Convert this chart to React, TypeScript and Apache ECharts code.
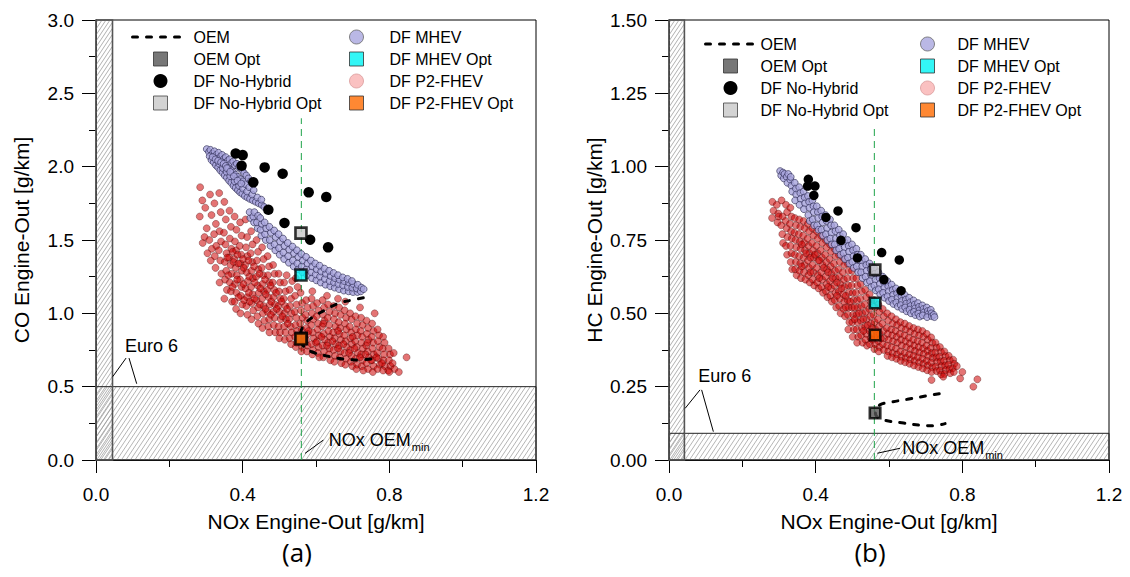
import React, { useEffect, useRef } from "react";
import * as echarts from "echarts";

const FONT = '"Liberation Sans", Arial, Helvetica, sans-serif';

// ---------- DATA (panel a: CO, panel b: HC) ----------
const seriesNames = ["OEM", "OEM Opt", "DF No-Hybrid", "DF No-Hybrid Opt", "DF MHEV", "DF MHEV Opt", "DF P2-FHEV", "DF P2-FHEV Opt"];
const xTicksMax = 1.2;
const yMaxA = 3.0;
const yMaxB = 1.5;

// Euro 6 limits and NOx OEM min
const euroNoxA = 0.045;
const euroCoA = 0.5;
const euroNoxB = 0.042;
const euroHcB = 0.091;
const noxOemMin = 0.56;

const oemA = [[0.729, 1.106], [0.697, 1.09], [0.661, 1.068], [0.625, 1.023], [0.593, 0.977], [0.567, 0.92], [0.558, 0.85], [0.565, 0.78], [0.588, 0.738], [0.638, 0.705], [0.684, 0.686], [0.72, 0.682], [0.75, 0.689]];
const oemB = [[0.737, 0.226], [0.70, 0.218], [0.65, 0.207], [0.60, 0.196], [0.575, 0.188], [0.565, 0.172], [0.563, 0.158], [0.57, 0.145], [0.59, 0.135], [0.64, 0.126], [0.69, 0.118], [0.72, 0.117], [0.753, 0.124]];

const oemOptA = [[0.56, 0.83]];
const oemOptB = [[0.562, 0.16]];
const noHybridOptA = [[0.559, 1.547]];
const noHybridOptB = [[0.562, 0.648]];
const mhevOptA = [[0.559, 1.261]];
const mhevOptB = [[0.562, 0.535]];
const p2OptA = [[0.559, 0.825]];
const p2OptB = [[0.562, 0.426]];

const noHybridA = [[0.381, 2.09], [0.40, 2.079], [0.397, 2.006], [0.46, 1.995], [0.509, 1.952], [0.429, 1.893], [0.58, 1.825], [0.628, 1.793], [0.47, 1.706], [0.514, 1.616], [0.584, 1.502], [0.633, 1.45]];
const noHybridB = [[0.38, 0.957], [0.398, 0.934], [0.378, 0.934], [0.395, 0.902], [0.461, 0.849], [0.428, 0.827], [0.51, 0.792], [0.469, 0.749], [0.58, 0.707], [0.628, 0.682], [0.514, 0.689], [0.586, 0.615], [0.633, 0.577]];

const mhevA = [
  [0.302, 2.12], [0.308, 2.10], [0.312, 2.115], [0.318, 2.09], [0.323, 2.105], [0.328, 2.08], [0.334, 2.095], [0.339, 2.068], [0.344, 2.08], [0.349, 2.055],
  [0.354, 2.065], [0.359, 2.04], [0.364, 2.05], [0.369, 2.025], [0.374, 2.035], [0.379, 2.01], [0.384, 2.02], [0.389, 1.995], [0.394, 1.99], [0.399, 1.975],
  [0.31, 2.07], [0.315, 2.045], [0.321, 2.03], [0.327, 2.01], [0.333, 1.995], [0.339, 1.975], [0.345, 1.96], [0.351, 1.94], [0.357, 1.925], [0.363, 1.905],
  [0.369, 1.89], [0.375, 1.87], [0.381, 1.855], [0.387, 1.84], [0.393, 1.825], [0.399, 1.815], [0.406, 1.80], [0.413, 1.79], [0.42, 1.78], [0.428, 1.77],
  [0.436, 1.76], [0.444, 1.75], [0.452, 1.74], [0.459, 1.725], [0.336, 2.02], [0.346, 1.99], [0.356, 1.965], [0.366, 1.935], [0.378, 1.90], [0.39, 1.87],
  [0.401, 1.85], [0.412, 1.83], [0.426, 1.81], [0.44, 1.79], [0.451, 1.775],
  [0.318, 2.065], [0.326, 2.05], [0.333, 2.04], [0.341, 2.03], [0.348, 2.02], [0.354, 2.005], [0.361, 1.99], [0.368, 1.975], [0.374, 1.96],
  [0.381, 1.945], [0.387, 1.93], [0.394, 1.915], [0.401, 1.90], [0.408, 1.88], [0.357, 1.99], [0.366, 1.965], [0.376, 1.935], [0.386, 1.905],
  [0.396, 1.885], [0.404, 1.955], [0.41, 1.94], [0.416, 1.92], [0.422, 1.90], [0.418, 1.86], [0.43, 1.84],
  [0.421, 1.65], [0.419, 1.69], [0.431, 1.62], [0.429, 1.66], [0.432, 1.69], [0.441, 1.58], [0.439, 1.62], [0.442, 1.665],
  [0.451, 1.53], [0.449, 1.57], [0.452, 1.61], [0.448, 1.65], [0.463, 1.50], [0.461, 1.54], [0.464, 1.58], [0.46, 1.62],
  [0.476, 1.46], [0.474, 1.50], [0.477, 1.55], [0.473, 1.59], [0.489, 1.43], [0.487, 1.47], [0.49, 1.52], [0.486, 1.565],
  [0.501, 1.40], [0.499, 1.445], [0.502, 1.49], [0.498, 1.54], [0.513, 1.37], [0.511, 1.415], [0.514, 1.46], [0.51, 1.51],
  [0.526, 1.345], [0.524, 1.39], [0.527, 1.435], [0.523, 1.48], [0.539, 1.32], [0.537, 1.36], [0.54, 1.41], [0.536, 1.455],
  [0.551, 1.30], [0.549, 1.34], [0.552, 1.385], [0.548, 1.43], [0.563, 1.28], [0.561, 1.32], [0.564, 1.36], [0.56, 1.405],
  [0.576, 1.26], [0.574, 1.30], [0.577, 1.34], [0.573, 1.385], [0.589, 1.24], [0.587, 1.28], [0.59, 1.32], [0.586, 1.36],
  [0.601, 1.225], [0.599, 1.265], [0.602, 1.30], [0.598, 1.34], [0.613, 1.21], [0.611, 1.25], [0.614, 1.285], [0.61, 1.325],
  [0.626, 1.195], [0.624, 1.235], [0.627, 1.27], [0.623, 1.305], [0.639, 1.185], [0.637, 1.22], [0.64, 1.255], [0.636, 1.29],
  [0.651, 1.175], [0.649, 1.21], [0.652, 1.24], [0.648, 1.275], [0.663, 1.165], [0.661, 1.20], [0.664, 1.23], [0.66, 1.26],
  [0.676, 1.155], [0.674, 1.19], [0.677, 1.22], [0.673, 1.245], [0.689, 1.15], [0.687, 1.18], [0.69, 1.21], [0.686, 1.235],
  [0.701, 1.145], [0.699, 1.175], [0.702, 1.20], [0.698, 1.22], [0.713, 1.145], [0.711, 1.17], [0.714, 1.195],
  [0.722, 1.15], [0.724, 1.175], [0.73, 1.165]
];

const mhevB = [
  [0.303, 0.985], [0.306, 0.97], [0.311, 0.98], [0.313, 0.96], [0.315, 0.975], [0.321, 0.965], [0.323, 0.945], [0.325, 0.975],
  [0.331, 0.955], [0.334, 0.935], [0.336, 0.915], [0.332, 0.965], [0.343, 0.945], [0.346, 0.925], [0.347, 0.905], [0.344, 0.885],
  [0.355, 0.93], [0.358, 0.91], [0.359, 0.89], [0.356, 0.87], [0.367, 0.915], [0.37, 0.895], [0.371, 0.875], [0.368, 0.855],
  [0.379, 0.9], [0.382, 0.88], [0.383, 0.86], [0.38, 0.835], [0.384, 0.815], [0.391, 0.885], [0.394, 0.865], [0.395, 0.845], [0.392, 0.82], [0.396, 0.80],
  [0.403, 0.865], [0.406, 0.845], [0.407, 0.825], [0.404, 0.80], [0.408, 0.785], [0.415, 0.85], [0.418, 0.83], [0.419, 0.81], [0.416, 0.785], [0.42, 0.765],
  [0.427, 0.835], [0.43, 0.815], [0.431, 0.79], [0.428, 0.77], [0.432, 0.75], [0.439, 0.82], [0.442, 0.80], [0.443, 0.775], [0.44, 0.755], [0.444, 0.735],
  [0.451, 0.80], [0.454, 0.78], [0.455, 0.755], [0.452, 0.735], [0.456, 0.715], [0.463, 0.785], [0.466, 0.765], [0.467, 0.74], [0.464, 0.72], [0.468, 0.70],
  [0.475, 0.77], [0.478, 0.745], [0.479, 0.725], [0.476, 0.705], [0.48, 0.685], [0.487, 0.75], [0.49, 0.73], [0.491, 0.71], [0.488, 0.69], [0.492, 0.67],
  [0.499, 0.735], [0.502, 0.715], [0.503, 0.695], [0.5, 0.675], [0.504, 0.655], [0.511, 0.72], [0.514, 0.70], [0.515, 0.68], [0.512, 0.66], [0.516, 0.64],
  [0.523, 0.70], [0.526, 0.68], [0.527, 0.66], [0.524, 0.64], [0.528, 0.62], [0.535, 0.685], [0.538, 0.665], [0.539, 0.645], [0.536, 0.625], [0.54, 0.605],
  [0.547, 0.67], [0.55, 0.65], [0.551, 0.63], [0.548, 0.61], [0.552, 0.59], [0.559, 0.655], [0.562, 0.635], [0.563, 0.615], [0.56, 0.595], [0.564, 0.578],
  [0.571, 0.64], [0.574, 0.62], [0.575, 0.60], [0.572, 0.582], [0.576, 0.565], [0.583, 0.625], [0.586, 0.605], [0.587, 0.587], [0.584, 0.57], [0.588, 0.553],
  [0.595, 0.61], [0.598, 0.592], [0.599, 0.575], [0.596, 0.558], [0.6, 0.542], [0.607, 0.598], [0.61, 0.58], [0.611, 0.563], [0.608, 0.547], [0.612, 0.532],
  [0.619, 0.585], [0.622, 0.568], [0.623, 0.552], [0.62, 0.537], [0.624, 0.523], [0.631, 0.574], [0.634, 0.557], [0.635, 0.542], [0.632, 0.528], [0.636, 0.515],
  [0.643, 0.563], [0.646, 0.547], [0.647, 0.533], [0.644, 0.52], [0.648, 0.507], [0.655, 0.553], [0.658, 0.538], [0.659, 0.525], [0.656, 0.512], [0.66, 0.50],
  [0.667, 0.544], [0.67, 0.53], [0.671, 0.517], [0.668, 0.505], [0.672, 0.494], [0.679, 0.535], [0.682, 0.522], [0.683, 0.51], [0.68, 0.499], [0.684, 0.489],
  [0.691, 0.527], [0.694, 0.515], [0.695, 0.503], [0.692, 0.493], [0.703, 0.52], [0.706, 0.508], [0.707, 0.497], [0.704, 0.487],
  [0.714, 0.512], [0.716, 0.50], [0.717, 0.49], [0.722, 0.495], [0.724, 0.487]
];

const p2A = [
  [0.284, 1.86], [0.29, 1.77], [0.283, 1.66], [0.291, 1.48],
  [0.298, 1.72], [0.302, 1.58], [0.296, 1.52], [0.304, 1.41],
  [0.311, 1.81], [0.315, 1.67], [0.309, 1.50], [0.313, 1.36], [0.316, 1.44],
  [0.323, 1.75], [0.327, 1.61], [0.322, 1.54], [0.328, 1.46], [0.324, 1.39], [0.326, 1.31],
  [0.336, 1.82], [0.34, 1.69], [0.337, 1.56], [0.341, 1.49], [0.335, 1.43], [0.339, 1.36], [0.342, 1.27], [0.337, 1.21],
  [0.35, 1.76], [0.354, 1.64], [0.349, 1.55], [0.353, 1.47], [0.356, 1.41], [0.351, 1.35], [0.355, 1.29], [0.352, 1.23], [0.357, 1.16], [0.35, 1.10],
  [0.364, 1.70], [0.368, 1.59], [0.365, 1.51], [0.369, 1.44], [0.363, 1.38], [0.367, 1.33], [0.37, 1.27], [0.365, 1.21], [0.368, 1.15], [0.371, 1.08],
  [0.378, 1.66], [0.383, 1.57], [0.379, 1.49], [0.382, 1.43], [0.377, 1.37], [0.381, 1.31], [0.384, 1.26], [0.379, 1.20], [0.383, 1.14], [0.378, 1.08], [0.382, 1.03],
  [0.393, 1.62], [0.397, 1.53], [0.392, 1.46], [0.396, 1.40], [0.394, 1.34], [0.398, 1.29], [0.393, 1.23], [0.397, 1.18], [0.395, 1.12], [0.399, 1.06], [0.394, 1.00],
  [0.408, 1.64], [0.412, 1.52], [0.409, 1.45], [0.413, 1.39], [0.407, 1.33], [0.411, 1.28], [0.414, 1.22], [0.408, 1.17], [0.412, 1.11], [0.41, 1.05], [0.413, 0.99],
  [0.423, 1.56], [0.427, 1.47], [0.422, 1.41], [0.426, 1.35], [0.424, 1.29], [0.428, 1.24], [0.423, 1.18], [0.427, 1.13], [0.425, 1.07], [0.429, 1.02], [0.424, 0.96],
  [0.438, 1.50], [0.442, 1.42], [0.439, 1.36], [0.443, 1.30], [0.437, 1.25], [0.441, 1.19], [0.444, 1.14], [0.438, 1.09], [0.442, 1.04], [0.44, 0.98], [0.443, 0.93],
  [0.453, 1.45], [0.457, 1.37], [0.452, 1.31], [0.456, 1.26], [0.454, 1.20], [0.458, 1.15], [0.453, 1.10], [0.457, 1.05], [0.455, 1.00], [0.459, 0.95], [0.454, 0.90],
  [0.468, 1.39], [0.472, 1.32], [0.469, 1.26], [0.473, 1.21], [0.467, 1.16], [0.471, 1.11], [0.474, 1.06], [0.468, 1.01], [0.472, 0.96], [0.47, 0.91], [0.473, 0.87],
  [0.483, 1.33], [0.487, 1.27], [0.482, 1.21], [0.486, 1.16], [0.484, 1.11], [0.488, 1.06], [0.483, 1.01], [0.487, 0.97], [0.485, 0.92], [0.489, 0.87],
  [0.498, 1.27], [0.502, 1.21], [0.499, 1.15], [0.503, 1.10], [0.497, 1.05], [0.501, 1.01], [0.504, 0.96], [0.498, 0.91], [0.502, 0.87], [0.5, 0.83],
  [0.513, 1.21], [0.517, 1.15], [0.512, 1.10], [0.516, 1.05], [0.514, 1.00], [0.518, 0.96], [0.513, 0.91], [0.517, 0.87], [0.515, 0.82],
  [0.528, 1.16], [0.532, 1.10], [0.529, 1.05], [0.533, 1.00], [0.527, 0.96], [0.531, 0.91], [0.534, 0.87], [0.528, 0.83], [0.532, 0.79],
  [0.543, 1.12], [0.547, 1.06], [0.542, 1.01], [0.546, 0.97], [0.544, 0.92], [0.548, 0.88], [0.543, 0.84], [0.547, 0.80], [0.545, 0.77],
  [0.558, 1.14], [0.562, 1.07], [0.559, 1.02], [0.563, 0.97], [0.557, 0.93], [0.561, 0.89], [0.564, 0.85], [0.558, 0.81], [0.562, 0.77], [0.56, 0.74],
  [0.573, 1.09], [0.577, 1.04], [0.572, 0.99], [0.576, 0.95], [0.574, 0.90], [0.578, 0.86], [0.573, 0.82], [0.577, 0.78], [0.575, 0.74],
  [0.588, 1.10], [0.592, 1.05], [0.589, 1.00], [0.593, 0.96], [0.587, 0.92], [0.591, 0.87], [0.594, 0.83], [0.588, 0.79], [0.592, 0.75], [0.59, 0.72],
  [0.603, 1.07], [0.607, 1.02], [0.602, 0.98], [0.606, 0.93], [0.604, 0.89], [0.608, 0.85], [0.603, 0.81], [0.607, 0.77], [0.605, 0.73], [0.609, 0.70],
  [0.618, 1.09], [0.622, 1.04], [0.619, 0.99], [0.623, 0.95], [0.617, 0.91], [0.621, 0.86], [0.624, 0.82], [0.618, 0.78], [0.622, 0.74], [0.62, 0.70],
  [0.633, 1.06], [0.637, 1.01], [0.632, 0.97], [0.636, 0.92], [0.634, 0.88], [0.638, 0.84], [0.633, 0.80], [0.637, 0.76], [0.635, 0.72], [0.639, 0.68],
  [0.648, 1.05], [0.652, 1.00], [0.649, 0.96], [0.653, 0.91], [0.647, 0.87], [0.651, 0.83], [0.654, 0.79], [0.648, 0.75], [0.652, 0.71], [0.65, 0.67],
  [0.663, 1.04], [0.667, 0.99], [0.662, 0.94], [0.666, 0.90], [0.664, 0.86], [0.668, 0.82], [0.663, 0.78], [0.667, 0.74], [0.665, 0.70], [0.669, 0.66],
  [0.678, 1.02], [0.682, 0.97], [0.679, 0.93], [0.683, 0.89], [0.677, 0.85], [0.681, 0.81], [0.684, 0.77], [0.678, 0.73], [0.682, 0.69], [0.68, 0.65],
  [0.693, 1.00], [0.697, 0.96], [0.692, 0.91], [0.696, 0.87], [0.694, 0.83], [0.698, 0.79], [0.693, 0.75], [0.697, 0.71], [0.695, 0.67], [0.699, 0.64],
  [0.708, 0.98], [0.712, 0.93], [0.709, 0.89], [0.713, 0.85], [0.707, 0.81], [0.711, 0.77], [0.714, 0.73], [0.708, 0.69], [0.712, 0.65], [0.71, 0.62],
  [0.723, 0.97], [0.727, 0.92], [0.722, 0.88], [0.726, 0.84], [0.724, 0.80], [0.728, 0.76], [0.723, 0.72], [0.727, 0.68], [0.725, 0.64], [0.729, 0.61],
  [0.738, 0.95], [0.742, 0.90], [0.739, 0.86], [0.743, 0.82], [0.737, 0.78], [0.741, 0.74], [0.744, 0.70], [0.738, 0.66], [0.742, 0.62],
  [0.753, 0.93], [0.757, 0.88], [0.752, 0.84], [0.756, 0.80], [0.754, 0.76], [0.758, 0.72], [0.753, 0.68], [0.757, 0.64], [0.755, 0.60],
  [0.768, 0.89], [0.772, 0.85], [0.769, 0.81], [0.773, 0.77], [0.767, 0.73], [0.771, 0.69], [0.774, 0.65], [0.768, 0.62],
  [0.783, 0.84], [0.787, 0.80], [0.782, 0.76], [0.786, 0.72], [0.784, 0.68], [0.788, 0.64], [0.783, 0.61],
  [0.798, 0.76], [0.802, 0.72], [0.799, 0.68], [0.803, 0.64], [0.797, 0.61],
  [0.812, 0.73], [0.809, 0.66], [0.814, 0.62], [0.826, 0.60], [0.847, 0.70], [0.80, 0.60],
  [0.59, 1.15], [0.63, 1.12], [0.68, 1.08], [0.72, 1.04], [0.76, 1.0], [0.66, 1.10], [0.52, 1.26], [0.535, 1.22], [0.55, 1.18], [0.545, 1.24],
  [0.358, 1.38], [0.361, 1.26], [0.373, 1.42], [0.375, 1.35], [0.372, 1.18], [0.386, 1.40], [0.388, 1.34], [0.385, 1.23], [0.389, 1.11], [0.401, 1.37],
  [0.403, 1.31], [0.402, 1.20], [0.404, 1.09], [0.416, 1.36], [0.418, 1.25], [0.417, 1.14], [0.419, 1.08], [0.431, 1.32], [0.433, 1.21], [0.432, 1.10],
  [0.446, 1.27], [0.448, 1.17], [0.447, 1.06], [0.461, 1.23], [0.463, 1.13], [0.462, 1.03], [0.476, 1.19], [0.478, 1.08], [0.477, 0.99], [0.491, 1.14],
  [0.493, 1.03], [0.506, 1.08], [0.508, 0.98], [0.521, 1.03], [0.523, 0.93],
  [0.58, 0.88], [0.60, 0.80], [0.615, 0.84], [0.63, 0.78], [0.645, 0.81], [0.66, 0.76], [0.675, 0.79], [0.69, 0.73], [0.705, 0.76], [0.72, 0.70],
  [0.735, 0.72], [0.75, 0.68], [0.765, 0.70], [0.78, 0.66], [0.62, 0.93], [0.66, 0.88], [0.70, 0.84], [0.74, 0.80]
];

const p2B = [
  [0.282, 0.88], [0.285, 0.85], [0.281, 0.825],
  [0.294, 0.87], [0.298, 0.84], [0.296, 0.81], [0.299, 0.83],
  [0.307, 0.885], [0.31, 0.83], [0.306, 0.80], [0.309, 0.77], [0.311, 0.74],
  [0.319, 0.87], [0.322, 0.845], [0.318, 0.815], [0.321, 0.79], [0.323, 0.76], [0.319, 0.73], [0.322, 0.70],
  [0.331, 0.86], [0.334, 0.83], [0.33, 0.805], [0.333, 0.78], [0.335, 0.755], [0.331, 0.73], [0.334, 0.705], [0.332, 0.675], [0.336, 0.65],
  [0.343, 0.825], [0.346, 0.80], [0.342, 0.775], [0.345, 0.75], [0.347, 0.725], [0.343, 0.70], [0.346, 0.675], [0.344, 0.65], [0.348, 0.63],
  [0.355, 0.82], [0.358, 0.795], [0.354, 0.77], [0.357, 0.745], [0.359, 0.72], [0.355, 0.695], [0.358, 0.67], [0.356, 0.645], [0.36, 0.62],
  [0.367, 0.815], [0.37, 0.79], [0.366, 0.765], [0.369, 0.74], [0.371, 0.715], [0.367, 0.69], [0.37, 0.665], [0.368, 0.64], [0.372, 0.615],
  [0.379, 0.805], [0.382, 0.78], [0.378, 0.755], [0.381, 0.73], [0.383, 0.705], [0.379, 0.68], [0.382, 0.655], [0.38, 0.63], [0.384, 0.605],
  [0.391, 0.79], [0.394, 0.765], [0.39, 0.74], [0.393, 0.715], [0.395, 0.69], [0.391, 0.665], [0.394, 0.64], [0.392, 0.615], [0.396, 0.595],
  [0.403, 0.78], [0.406, 0.755], [0.402, 0.73], [0.405, 0.705], [0.407, 0.68], [0.403, 0.655], [0.406, 0.63], [0.404, 0.605], [0.408, 0.585],
  [0.415, 0.765], [0.418, 0.74], [0.414, 0.715], [0.417, 0.69], [0.419, 0.665], [0.415, 0.64], [0.418, 0.615], [0.416, 0.59], [0.42, 0.57],
  [0.427, 0.75], [0.43, 0.725], [0.426, 0.70], [0.429, 0.675], [0.431, 0.65], [0.427, 0.625], [0.43, 0.60], [0.428, 0.575], [0.432, 0.555],
  [0.439, 0.735], [0.442, 0.71], [0.438, 0.685], [0.441, 0.66], [0.443, 0.635], [0.439, 0.61], [0.442, 0.585], [0.44, 0.56], [0.444, 0.54],
  [0.451, 0.72], [0.454, 0.695], [0.45, 0.67], [0.453, 0.645], [0.455, 0.62], [0.451, 0.595], [0.454, 0.57], [0.452, 0.545], [0.456, 0.52],
  [0.463, 0.70], [0.466, 0.675], [0.462, 0.65], [0.465, 0.625], [0.467, 0.60], [0.463, 0.575], [0.466, 0.55], [0.464, 0.525], [0.468, 0.50],
  [0.475, 0.69], [0.478, 0.665], [0.474, 0.64], [0.477, 0.615], [0.479, 0.59], [0.475, 0.565], [0.478, 0.54], [0.476, 0.515], [0.48, 0.49],
  [0.487, 0.67], [0.49, 0.645], [0.486, 0.62], [0.489, 0.595], [0.491, 0.57], [0.487, 0.545], [0.49, 0.52], [0.488, 0.495], [0.492, 0.47], [0.489, 0.445],
  [0.499, 0.645], [0.502, 0.62], [0.498, 0.595], [0.501, 0.57], [0.503, 0.545], [0.499, 0.52], [0.502, 0.495], [0.5, 0.47], [0.504, 0.445], [0.501, 0.42],
  [0.511, 0.62], [0.514, 0.595], [0.51, 0.57], [0.513, 0.545], [0.515, 0.52], [0.511, 0.495], [0.514, 0.47], [0.512, 0.445], [0.516, 0.42], [0.513, 0.40],
  [0.523, 0.60], [0.526, 0.575], [0.522, 0.55], [0.525, 0.525], [0.527, 0.50], [0.523, 0.475], [0.526, 0.45], [0.524, 0.425], [0.528, 0.40],
  [0.535, 0.58], [0.538, 0.555], [0.534, 0.53], [0.537, 0.505], [0.539, 0.48], [0.535, 0.455], [0.538, 0.43], [0.536, 0.41], [0.54, 0.39],
  [0.547, 0.565], [0.55, 0.54], [0.546, 0.515], [0.549, 0.49], [0.551, 0.465], [0.547, 0.44], [0.55, 0.415], [0.548, 0.395],
  [0.559, 0.545], [0.562, 0.52], [0.558, 0.495], [0.561, 0.47], [0.563, 0.445], [0.559, 0.42], [0.562, 0.395], [0.56, 0.378],
  [0.571, 0.53], [0.574, 0.505], [0.57, 0.48], [0.573, 0.455], [0.575, 0.43], [0.571, 0.405], [0.574, 0.385], [0.572, 0.37],
  [0.583, 0.515], [0.586, 0.49], [0.582, 0.465], [0.585, 0.44], [0.587, 0.415], [0.583, 0.395], [0.586, 0.375],
  [0.595, 0.50], [0.598, 0.475], [0.594, 0.45], [0.597, 0.43], [0.599, 0.41], [0.595, 0.39], [0.598, 0.37], [0.596, 0.355],
  [0.607, 0.49], [0.61, 0.465], [0.606, 0.445], [0.609, 0.425], [0.611, 0.405], [0.607, 0.385], [0.61, 0.365], [0.608, 0.35],
  [0.619, 0.48], [0.622, 0.46], [0.618, 0.44], [0.621, 0.42], [0.623, 0.40], [0.619, 0.38], [0.622, 0.36], [0.62, 0.345],
  [0.631, 0.47], [0.634, 0.45], [0.63, 0.43], [0.633, 0.41], [0.635, 0.39], [0.631, 0.37], [0.634, 0.352], [0.632, 0.338],
  [0.643, 0.465], [0.646, 0.445], [0.642, 0.425], [0.645, 0.405], [0.647, 0.385], [0.643, 0.365], [0.646, 0.348], [0.644, 0.333],
  [0.655, 0.457], [0.658, 0.437], [0.654, 0.417], [0.657, 0.397], [0.659, 0.378], [0.655, 0.36], [0.658, 0.343], [0.656, 0.328],
  [0.667, 0.45], [0.67, 0.43], [0.666, 0.41], [0.669, 0.39], [0.671, 0.372], [0.667, 0.355], [0.67, 0.338], [0.668, 0.322],
  [0.679, 0.445], [0.682, 0.425], [0.678, 0.405], [0.681, 0.385], [0.683, 0.367], [0.679, 0.35], [0.682, 0.333], [0.68, 0.317],
  [0.691, 0.44], [0.694, 0.42], [0.69, 0.40], [0.693, 0.38], [0.695, 0.362], [0.691, 0.345], [0.694, 0.328], [0.692, 0.312],
  [0.703, 0.43], [0.706, 0.41], [0.702, 0.39], [0.705, 0.372], [0.707, 0.355], [0.703, 0.338], [0.706, 0.322], [0.704, 0.306],
  [0.715, 0.418], [0.718, 0.40], [0.714, 0.382], [0.717, 0.365], [0.719, 0.348], [0.715, 0.332], [0.718, 0.316], [0.716, 0.30],
  [0.727, 0.40], [0.73, 0.383], [0.726, 0.366], [0.729, 0.35], [0.731, 0.334], [0.727, 0.318], [0.73, 0.303],
  [0.739, 0.385], [0.742, 0.368], [0.738, 0.352], [0.741, 0.336], [0.743, 0.32], [0.739, 0.305], [0.742, 0.292],
  [0.751, 0.37], [0.754, 0.354], [0.75, 0.338], [0.753, 0.322], [0.755, 0.307], [0.751, 0.293],
  [0.763, 0.355], [0.766, 0.34], [0.762, 0.325], [0.765, 0.31], [0.767, 0.296],
  [0.775, 0.342], [0.778, 0.328], [0.774, 0.313], [0.777, 0.30],
  [0.716, 0.273], [0.748, 0.284], [0.794, 0.278], [0.83, 0.25], [0.841, 0.275], [0.785, 0.32], [0.80, 0.30],
  [0.362, 0.735], [0.374, 0.705], [0.386, 0.69], [0.398, 0.70], [0.41, 0.68], [0.422, 0.655], [0.434, 0.64], [0.446, 0.62], [0.458, 0.605], [0.47, 0.585],
  [0.482, 0.56], [0.494, 0.54], [0.506, 0.52], [0.518, 0.50], [0.53, 0.48], [0.542, 0.46], [0.554, 0.45], [0.566, 0.43], [0.578, 0.415],
  [0.362, 0.66], [0.386, 0.64], [0.41, 0.62], [0.434, 0.59], [0.458, 0.56], [0.482, 0.52], [0.506, 0.48], [0.53, 0.44], [0.554, 0.41]
];

// ---------- helpers ----------
function hatchPath(x0: number, y0: number, x1: number, y1: number, spacing: number, k: number) {
  const step = spacing * k;
  let d = "";
  const cMin = k * x0 + y0;
  const cMax = k * x1 + y1;
  for (let c = cMin + step / 2; c < cMax; c += step) {
    const xa = Math.max(x0, (c - y1) / k);
    const xb = Math.min(x1, (c - y0) / k);
    if (xb > xa) d += `M${xa.toFixed(2)} ${(c - k * xa).toFixed(2)}L${xb.toFixed(2)} ${(c - k * xb).toFixed(2)}`;
  }
  return d || "M0 0";
}

type Panel = {
  idx: number;
  yMax: number;
  euroNox: number;
  euroLimit: number;
  dashTop: number;
  euroText: number[];
  leaders: number[][][];
  noxLeader: number[][];
  noxText: number[];
};

function euroSeries(pn: Panel) {
  return {
    type: "custom",
    xAxisIndex: pn.idx,
    yAxisIndex: pn.idx,
    z: 1,
    silent: true,
    data: [[0, 0]],
    renderItem: (_params: any, api: any) => {
      const c = (v: number[]) => api.coord(v);
      const [sx0, sy1] = c([0, 0]);
      const [sx1, sy0] = c([pn.euroNox, pn.yMax]);
      const [bx1, by0] = c([xTicksMax, pn.euroLimit]);
      const children: any[] = [];
      children.push({
        type: "path",
        shape: { pathData: hatchPath(sx0, sy0, sx1, sy1, 4.0, 1.5) },
        style: { fill: "none", stroke: "#8f8f8f", lineWidth: 0.7 },
      });
      children.push({
        type: "path",
        shape: { pathData: hatchPath(sx0, by0, bx1, sy1, 4.5, 1.5) },
        style: { fill: "none", stroke: "#9c9c9c", lineWidth: 0.75 },
      });
      children.push({
        type: "rect",
        shape: { x: sx0, y: by0, width: bx1 - sx0, height: sy1 - by0 },
        style: { fill: "none", stroke: "#222", lineWidth: 1 },
      });
      children.push({
        type: "rect",
        shape: { x: sx0, y: sy0, width: sx1 - sx0, height: sy1 - sy0 },
        style: { fill: "none", stroke: "#555", lineWidth: 1.6 },
      });
      const [gx, gy0] = c([noxOemMin, 0]);
      const [, gy1] = c([noxOemMin, pn.dashTop]);
      children.push({
        type: "line",
        shape: { x1: gx, y1: gy0, x2: gx, y2: gy1 },
        style: { stroke: "#1fa34a", lineWidth: 1, lineDash: [7, 5] },
      });
      pn.leaders.forEach((seg) => {
        const a = c(seg[0]);
        const b = c(seg[1]);
        children.push({ type: "line", shape: { x1: a[0], y1: a[1], x2: b[0], y2: b[1] }, style: { stroke: "#000", lineWidth: 1 } });
      });
      const na = c(pn.noxLeader[0]);
      const nb = c(pn.noxLeader[1]);
      children.push({ type: "line", shape: { x1: na[0], y1: na[1], x2: nb[0], y2: nb[1] }, style: { stroke: "#000", lineWidth: 1 } });
      const et = c(pn.euroText);
      children.push({
        type: "text",
        x: et[0],
        y: et[1],
        style: { text: "Euro 6", fill: "#000", font: `18px ${FONT}`, align: "left", verticalAlign: "middle" },
      });
      const nt = c(pn.noxText);
      children.push({
        type: "text",
        x: nt[0],
        y: nt[1],
        style: { text: "NOx OEM", fill: "#000", font: `18px ${FONT}`, align: "left", verticalAlign: "middle" },
      });
      children.push({
        type: "text",
        x: nt[0] + 83,
        y: nt[1] + 7,
        style: { text: "min", fill: "#000", font: `11px ${FONT}`, align: "left", verticalAlign: "middle" },
      });
      return { type: "group", children };
    },
  };
}

const panels: Panel[] = [
  {
    idx: 0,
    yMax: yMaxA,
    euroNox: euroNoxA,
    euroLimit: euroCoA,
    dashTop: 2.33,
    euroText: [0.079, 0.777],
    leaders: [
      [[0.082, 0.695], [0.0455, 0.568]],
      [[0.09, 0.695], [0.111, 0.52]],
    ],
    noxLeader: [[0.57, 0.045], [0.62, 0.136]],
    noxText: [0.635, 0.136],
  },
  {
    idx: 1,
    yMax: yMaxB,
    euroNox: euroNoxB,
    euroLimit: euroHcB,
    dashTop: 1.13,
    euroText: [0.08, 0.286],
    leaders: [
      [[0.0845, 0.239], [0.044, 0.176]],
      [[0.089, 0.239], [0.121, 0.0966]],
    ],
    noxLeader: [[0.568, 0.023], [0.63, 0.04]],
    noxText: [0.636, 0.04],
  },
];

const panelData = [
  { oem: oemA, oemOpt: oemOptA, noHybrid: noHybridA, noHybridOpt: noHybridOptA, mhev: mhevA, mhevOpt: mhevOptA, p2: p2A, p2Opt: p2OptA, dot: 10.5, sq: 11 },
  { oem: oemB, oemOpt: oemOptB, noHybrid: noHybridB, noHybridOpt: noHybridOptB, mhev: mhevB, mhevOpt: mhevOptB, p2: p2B, p2Opt: p2OptB, dot: 9.5, sq: 10.5 },
];

function buildSeries() {
  const out: any[] = [];
  panelData.forEach((d, i) => {
    out.push(euroSeries(panels[i]));
    out.push({
      name: seriesNames[6], type: "scatter", xAxisIndex: i, yAxisIndex: i, z: 2, data: d.p2, symbol: "circle", symbolSize: 7,
      itemStyle: { color: "rgba(205,0,0,0.68)", borderColor: "rgba(60,0,0,0.6)", borderWidth: 0.7 },
    });
    out.push({
      name: seriesNames[4], type: "scatter", xAxisIndex: i, yAxisIndex: i, z: 3, data: d.mhev, symbol: "circle", symbolSize: 6.8,
      itemStyle: { color: "#a7a4dc", borderColor: "#2c2b52", borderWidth: 0.8 },
    });
    out.push({
      name: seriesNames[2], type: "scatter", xAxisIndex: i, yAxisIndex: i, z: 4, data: d.noHybrid, symbol: "circle", symbolSize: d.dot,
      itemStyle: { color: "#000", opacity: 1 },
    });
    out.push({
      name: seriesNames[0], type: "line", xAxisIndex: i, yAxisIndex: i, z: 5, data: d.oem, symbol: "none", smooth: 0.4,
      lineStyle: { color: "#000", width: 3, type: [5, 9], cap: "round" },
      itemStyle: { color: "#000" },
    });
    const sq = (name: string, data: number[][], color: string) => ({
      name, type: "scatter", xAxisIndex: i, yAxisIndex: i, z: 6, data, symbol: "rect", symbolSize: d.sq,
      itemStyle: { color, borderColor: "#000", borderWidth: 2.6 },
    });
    out.push(sq(seriesNames[1], d.oemOpt, "#555555"));
    out.push(sq(seriesNames[3], d.noHybridOpt, "#c8c8c8"));
    out.push(sq(seriesNames[5], d.mhevOpt, "#00f4f4"));
    out.push(sq(seriesNames[7], d.p2Opt, "#ff6a00"));
  });
  return out;
}

const SQUARE = "path://M0 0H10V10H0Z";
const legendItems: Record<string, any> = {
  "OEM": { name: "OEM", itemStyle: { color: "rgba(0,0,0,0)", borderColor: "rgba(0,0,0,0)", borderWidth: 0, opacity: 0 }, lineStyle: { color: "#000", width: 3, type: [5, 9], cap: "round" } },
  "OEM Opt": { name: "OEM Opt", icon: SQUARE, itemStyle: { color: "#555555", borderColor: "#333", borderWidth: 1 } },
  "DF No-Hybrid": { name: "DF No-Hybrid", icon: "circle", itemStyle: { color: "#000", borderWidth: 0 } },
  "DF No-Hybrid Opt": { name: "DF No-Hybrid Opt", icon: SQUARE, itemStyle: { color: "#c8c8c8", borderColor: "#444", borderWidth: 1 } },
  "DF MHEV": { name: "DF MHEV", icon: "circle", itemStyle: { color: "#a9a6de", borderColor: "#666", borderWidth: 1 } },
  "DF MHEV Opt": { name: "DF MHEV Opt", icon: SQUARE, itemStyle: { color: "#00f4f4", borderColor: "#333", borderWidth: 1 } },
  "DF P2-FHEV": { name: "DF P2-FHEV", icon: "circle", itemStyle: { color: "#f9b1b1", borderColor: "#d99a9a", borderWidth: 1 } },
  "DF P2-FHEV Opt": { name: "DF P2-FHEV Opt", icon: SQUARE, itemStyle: { color: "#ff6a00", borderColor: "#333", borderWidth: 1 } },
};

// ECharts trims the empty margin left of icon-only columns, so icon columns
// that do not start with a full-width line icon need that margin added back.
function legend(left: number, top: number, itemWidth: number, names: string[], iconOnly: boolean) {
  return {
    orient: "vertical",
    align: "left",
    left: iconOnly ? left + itemWidth / 2 - 7 : left,
    top,
    padding: 0,
    itemWidth,
    itemHeight: 14,
    itemGap: 6,
    selectedMode: false,
    textStyle: { fontFamily: FONT, fontSize: 16, color: "#000", lineHeight: 16 },
    data: names.map((n) => legendItems[n]),
  };
}

function xAxis(i: number) {
  return {
    type: "value", gridIndex: i, min: 0, max: xTicksMax, interval: 0.4,
    name: "NOx Engine-Out [g/km]", nameLocation: "middle", nameGap: 51,
    nameTextStyle: { fontFamily: FONT, fontSize: 21, color: "#000" },
    axisLine: { onZero: false, lineStyle: { color: "#000", width: 1 } },
    axisTick: { length: 13, lineStyle: { color: "#000", width: 1 } },
    minorTick: { show: true, splitNumber: 2, length: 7, lineStyle: { color: "#000", width: 1 } },
    splitLine: { show: false },
    axisLabel: { margin: 25, color: "#000", fontFamily: FONT, fontSize: 19, formatter: (v: number) => v.toFixed(1) },
  };
}

function yAxis(i: number, max: number, interval: number, name: string, dec: number) {
  return {
    type: "value", gridIndex: i, min: 0, max, interval,
    name, nameLocation: "middle", nameGap: 64,
    nameTextStyle: { fontFamily: FONT, fontSize: 21, color: "#000" },
    axisLine: { onZero: false, lineStyle: { color: "#000", width: 1 } },
    axisTick: { length: 14, lineStyle: { color: "#000", width: 1 } },
    minorTick: { show: true, splitNumber: 2, length: 7, lineStyle: { color: "#000", width: 1 } },
    splitLine: { show: false },
    axisLabel: { margin: 22, color: "#000", fontFamily: FONT, fontSize: 19, formatter: (v: number) => v.toFixed(dec) },
  };
}

export default function App() {
  const ref = useRef<HTMLDivElement>(null);
  useEffect(() => {
    if (!ref.current) return;
    const chart = echarts.init(ref.current, undefined, { renderer: "svg" });
    chart.setOption({
      animation: false,
      backgroundColor: "#fff",
      grid: [
        { left: 96, top: 20, width: 440, height: 440, show: true, borderColor: "#000", borderWidth: 1, backgroundColor: "transparent" },
        { left: 669, top: 20, width: 440, height: 440, show: true, borderColor: "#000", borderWidth: 1, backgroundColor: "transparent" },
      ],
      xAxis: [xAxis(0), xAxis(1)],
      yAxis: [
        yAxis(0, yMaxA, 0.5, "CO Engine-Out [g/km]", 1),
        yAxis(1, yMaxB, 0.25, "HC Engine-Out [g/km]", 2),
      ],
      legend: [
        legend(131, 29, 56, ["OEM", "OEM Opt", "DF No-Hybrid", "DF No-Hybrid Opt"], false),
        legend(328, 29, 56, ["DF MHEV", "DF MHEV Opt", "DF P2-FHEV", "DF P2-FHEV Opt"], true),
        legend(704, 36, 50, ["OEM", "OEM Opt", "DF No-Hybrid", "DF No-Hybrid Opt"], false),
        legend(902, 36, 50, ["DF MHEV", "DF MHEV Opt", "DF P2-FHEV", "DF P2-FHEV Opt"], true),
      ],
      graphic: [
        { type: "text", x: 297, y: 552, style: { text: "(a)", fill: "#000", font: '26px "Open Sans", "Noto Sans", sans-serif', align: "center", verticalAlign: "middle" } },
        { type: "text", x: 870, y: 552, style: { text: "(b)", fill: "#000", font: '26px "Open Sans", "Noto Sans", sans-serif', align: "center", verticalAlign: "middle" } },
      ],
      series: buildSeries(),
    });
    return () => chart.dispose();
  }, []);
  return <div ref={ref} style={{ position: "absolute", left: 0, top: 0, width: 1130, height: 577 }} />;
}
